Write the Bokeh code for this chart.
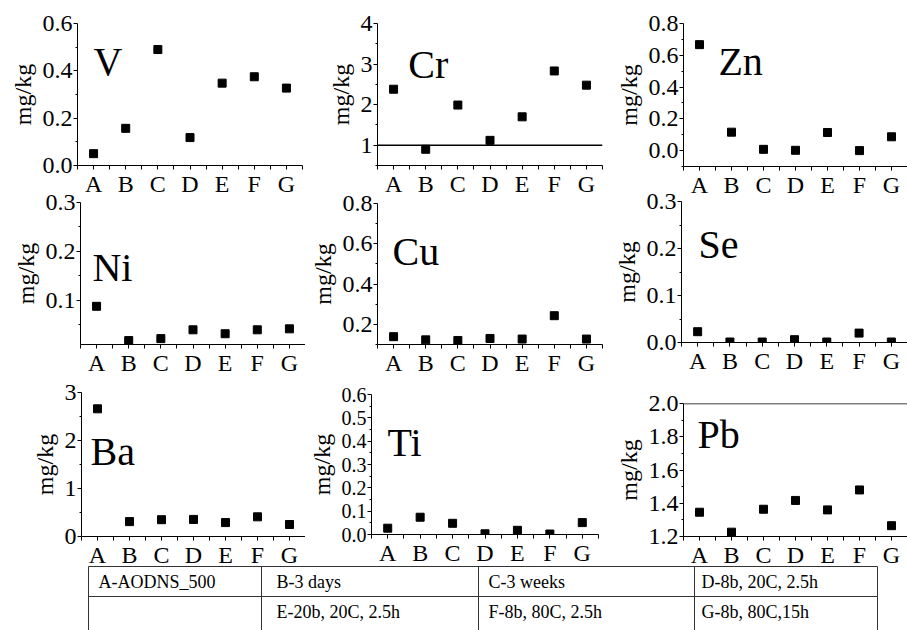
from bokeh.plotting import figure
from bokeh.models import Range1d, FixedTicker, PrintfTickFormatter, Span, Label, ColumnDataSource
from bokeh.layouts import row, column
from bokeh.embed import file_html
from bokeh.resources import INLINE
from bokeh.core.properties import value

FONT = "Liberation Serif"

categories = ["A", "B", "C", "D", "E", "F", "G"]

v_vals = [0.05, 0.157, 0.49, 0.118, 0.348, 0.375, 0.327]
cr_vals = [2.38, 0.90, 1.99, 1.12, 1.70, 2.83, 2.48]
zn_vals = [0.667, 0.116, 0.008, 0.002, 0.114, 0.0, 0.087]
ni_vals = [0.088, 0.018, 0.022, 0.040, 0.032, 0.040, 0.042]
cu_vals = [0.139, 0.123, 0.120, 0.130, 0.127, 0.243, 0.127]
se_vals = [0.023, 0.001, 0.001, 0.006, 0.001, 0.020, 0.001]
ba_vals = [2.66, 0.31, 0.35, 0.356, 0.29, 0.41, 0.25]
ti_vals = [0.027, 0.074, 0.048, 0.003, 0.018, 0.002, 0.051]
pb_vals = [1.346, 1.226, 1.364, 1.417, 1.36, 1.48, 1.265]

v_ticks = [0.0, 0.2, 0.4, 0.6];            v_minor = [0.1, 0.3, 0.5]
cr_ticks = [1, 2, 3, 4];                   cr_minor = [0.5, 1.5, 2.5, 3.5]
zn_ticks = [0.0, 0.2, 0.4, 0.6, 0.8];      zn_minor = [-0.1, 0.1, 0.3, 0.5, 0.7]
ni_ticks = [0.1, 0.2, 0.3];                ni_minor = [0.05, 0.15, 0.25]
cu_ticks = [0.2, 0.4, 0.6, 0.8];           cu_minor = [0.1, 0.3, 0.5, 0.7]
se_ticks = [0.0, 0.1, 0.2, 0.3];           se_minor = [0.05, 0.15, 0.25]
ba_ticks = [0, 1, 2, 3];                   ba_minor = [0.5, 1.5, 2.5]
ti_ticks = [0.0, 0.1, 0.2, 0.3, 0.4, 0.5, 0.6]; ti_minor = [0.05, 0.15, 0.25, 0.35, 0.45, 0.55]
pb_ticks = [1.2, 1.4, 1.6, 1.8, 2.0];      pb_minor = [1.3, 1.5, 1.7, 1.9]

table_row1 = ["A-AODNS_500", "B-3 days", "C-3 weeks", "D-8b, 20C, 2.5h"]
table_row2 = ["", "E-20b, 20C, 2.5h", "F-8b, 80C, 2.5h", "G-8b, 80C,15h"]

xs = list(range(1, len(categories) + 1))
x_minor = [i + 0.5 for i in range(0, len(categories) + 1)]


def panel(name, vals, yr, ticks, minor, fmt, width, height, left, right, top, bottom,
          lab_x, lab_y, tick_size="24px", hline=None):
    p = figure(width=width, height=height, x_range=Range1d(0.5, 7.5), y_range=Range1d(*yr),
               output_backend="svg", toolbar_location=None,
               min_border_left=left, min_border_right=right,
               min_border_top=top, min_border_bottom=bottom)
    p.border_fill_alpha = 0
    p.background_fill_alpha = 0
    p.outline_line_color = None
    p.xgrid.visible = False
    p.ygrid.visible = False

    if hline is not None:
        p.add_layout(Span(location=hline, dimension="width", line_color="black", line_width=1.5))

    p.scatter(xs, vals, marker="square", size=8, color="black")

    xa = p.xaxis[0]
    xa.ticker = FixedTicker(ticks=xs, minor_ticks=x_minor)
    xa.major_label_overrides = {i: c for i, c in zip(xs, categories)}
    xa.major_label_text_font = FONT
    xa.major_label_text_font_size = "24px"
    xa.major_label_text_color = "black"
    xa.major_label_standoff = 1
    xa.major_tick_in = 0
    xa.major_tick_out = 4
    xa.minor_tick_in = 0
    xa.minor_tick_out = 4
    xa.axis_line_color = "black"
    xa.major_tick_line_color = "black"
    xa.minor_tick_line_color = "black"

    ya = p.yaxis[0]
    ya.ticker = FixedTicker(ticks=ticks, minor_ticks=minor)
    ya.formatter = PrintfTickFormatter(format=fmt)
    ya.major_label_text_font = FONT
    ya.major_label_text_font_size = tick_size
    ya.major_label_text_color = "black"
    ya.major_label_standoff = 1
    ya.major_tick_in = 0
    ya.major_tick_out = 4
    ya.minor_tick_in = 0
    ya.minor_tick_out = 2
    ya.axis_line_color = "black"
    ya.major_tick_line_color = "black"
    ya.minor_tick_line_color = "black"
    ya.axis_label = "mg/kg"
    ya.axis_label_text_font = FONT
    ya.axis_label_text_font_size = "24px"
    ya.axis_label_text_font_style = "normal"
    ya.axis_label_text_color = "black"
    ya.axis_label_standoff = 4

    p.add_layout(Label(x=lab_x, y=lab_y, text=name, text_font=FONT, text_font_size="40px",
                       text_baseline="alphabetic", text_align="left", text_color="black"))
    return column(p)


# Row 1 (y 0 -> 200)
pv = panel("V", v_vals, (0.0, 0.6), v_ticks, v_minor, "%.1f", 305, 200, 77, 3, 23, 35, 1.0, 0.439)
pcr = panel("Cr", cr_vals, (0.5, 4.0), cr_ticks, cr_minor, "%d", 305, 200, 72, 8, 23, 35, 1.46, 2.99, hline=1)
pzn = panel("Zn", zn_vals, (-0.1, 0.8), zn_ticks, zn_minor, "%.1f", 297, 200, 73, 0, 23, 34, 1.59, 0.561)

# Row 2 (y 185 -> 380)
pni = panel("Ni", ni_vals, (0.01, 0.3), ni_ticks, ni_minor, "%.1f", 305, 195, 80, 0, 17, 36, 0.87, 0.168)
pcu = panel("Cu", cu_vals, (0.1, 0.8), cu_ticks, cu_minor, "%.1f", 305, 195, 72, 8, 18, 36, 0.97, 0.562)
pse = panel("Se", se_vals, (0.0, 0.3), se_ticks, se_minor, "%.1f", 297, 195, 71, 0, 16, 38, 1.03, 0.208)

# Row 3 (y 375 -> 570)
pba = panel("Ba", ba_vals, (0.0, 3.0), ba_ticks, ba_minor, "%d", 305, 195, 81, 0, 17, 34, 0.78, 1.77)
pti = panel("Ti", ti_vals, (0.0, 0.6), ti_ticks, ti_minor, "%.1f", 305, 195, 66, 12, 19, 36, 0.99, 0.394,
            tick_size="20px")
ppb = panel("Pb", pb_vals, (1.2, 2.0), pb_ticks, pb_minor, "%.1f", 297, 195, 73, 0, 28, 31, 0.94, 1.812,
            hline=2.0)

# Table (y 560 -> 630)
pt = figure(width=907, height=70, x_range=Range1d(0, 907), y_range=Range1d(70, 0),
            output_backend="svg", toolbar_location=None,
            min_border_left=0, min_border_right=0, min_border_top=0, min_border_bottom=0)
pt.border_fill_alpha = 0
pt.background_fill_alpha = 0
pt.outline_line_color = None
pt.xaxis.visible = False
pt.yaxis.visible = False
pt.xgrid.visible = False
pt.ygrid.visible = False

col_edges = [88, 261, 478, 694, 877]
row_edges = [6, 36]
pt.segment(x0=[col_edges[0]] * 2, x1=[col_edges[-1]] * 2, y0=row_edges, y1=row_edges,
           line_color="#333333", line_width=1)
pt.segment(x0=col_edges, x1=col_edges, y0=[6] * len(col_edges), y1=[70] * len(col_edges),
           line_color="#333333", line_width=1)
text_x = [98, 276, 488, 701]
src = ColumnDataSource(dict(x=text_x + text_x, y=[21] * 4 + [51] * 4, t=table_row1 + table_row2))
pt.text(x="x", y="y", text="t", source=src, text_font=value(FONT), text_font_size="18px",
        text_baseline="middle", text_align="left", text_color="black")

r1 = row(pv, pcr, pzn)
r2 = row(pni, pcu, pse, margin=(-15, 0, 0, 0))
r3 = row(pba, pti, ppb, margin=(-5, 0, 0, 0))
pt.margin = (-10, 0, 0, 0)
layout = column(r1, r2, r3, pt)

open("out.html", "w").write(file_html(layout, INLINE))
